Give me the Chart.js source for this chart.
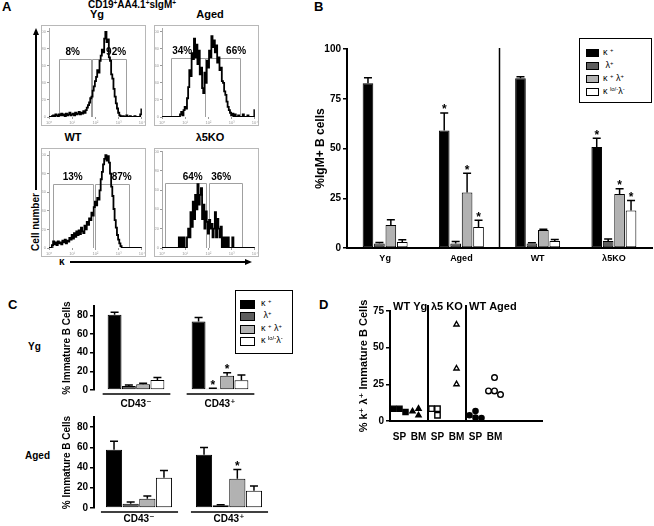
<!DOCTYPE html>
<html lang="en">
<head>
<meta charset="UTF-8">
<title>Light chain usage in immature B cells</title>
<script src="https://cdn.jsdelivr.net/npm/chart.js@4.4.1/dist/chart.umd.min.js"></script>
<style>
  html, body { margin: 0; padding: 0; background: #fff; }
  #fig { position: relative; width: 654px; height: 526px; overflow: hidden;
         font-family: "Liberation Sans", Arial, Helvetica, sans-serif; color: #000; }
  #fig canvas { position: absolute; }
  .t { position: absolute; font-weight: bold; white-space: nowrap; line-height: 1; }
  .t sup, .key sup { font-size: 65%; vertical-align: 0; position: relative; top: -0.45em; }
  .mid { transform: translateX(-50%); }
  .rot { transform: translate(-50%, -50%) rotate(-90deg); }
  .axv { z-index: 5; text-align: right; }
  .key { position: absolute; border: 1px solid #000; background: #fff; box-sizing: border-box; }
  .key div { position: absolute; white-space: nowrap; line-height: 1; }
  .key span { position: absolute; border: 1px solid #000; box-sizing: border-box; }
  .rule { position: absolute; background: #000; }
  .head { position: absolute; width: 0; height: 0; }
</style>
</head>
<body>
<div id="fig">
  <!-- panel letters -->
  <div class="t" style="left:2px;top:0;font-size:13px">A</div>
  <div class="t" style="left:314px;top:0;font-size:13px">B</div>
  <div class="t" style="left:8px;top:298px;font-size:13px">C</div>
  <div class="t" style="left:319px;top:298px;font-size:13px">D</div>

  <!-- A headings -->
  <div class="t mid" style="left:132px;top:0;font-size:10px">CD19<sup>+</sup>AA4.1<sup>+</sup>sIgM<sup>+</sup></div>
  <div class="t mid" style="left:97px;top:9px;font-size:11px">Yg</div>
  <div class="t mid" style="left:210px;top:9px;font-size:11px">Aged</div>
  <div class="t mid" style="left:73px;top:132px;font-size:11px">WT</div>
  <div class="t mid" style="left:210px;top:132px;font-size:11px">λ5KO</div>

  <!-- A axis arrows -->
  <div class="rule" style="left:35px;top:34px;width:1.5px;height:156px"></div>
  <div class="head" style="left:33px;top:28px;border-left:3px solid transparent;border-right:3px solid transparent;border-bottom:7px solid #000"></div>
  <div class="t rot" style="left:36px;top:222px;font-size:10px">Cell number</div>
  <div class="t" style="left:59px;top:257px;font-size:10px">κ</div>
  <div class="rule" style="left:70px;top:261px;width:176px;height:1.5px"></div>
  <div class="head" style="left:245px;top:259px;border-top:3px solid transparent;border-bottom:3px solid transparent;border-left:7px solid #000"></div>

  <canvas id="aYg" width="105" height="101" style="left:41px;top:25px"></canvas>
  <canvas id="aAged" width="105" height="101" style="left:154px;top:25px"></canvas>
  <canvas id="aWT" width="105" height="109" style="left:41px;top:148px"></canvas>
  <canvas id="aKO" width="105" height="109" style="left:154px;top:148px"></canvas>

  <canvas id="chartB" width="354" height="232" style="left:300px;top:40px"></canvas>
  <div class="key" style="left:579px;top:38px;width:73px;height:65px;font-size:9px">
    <span style="left:6px;top:10px;width:13px;height:8px;background:#000"></span><div style="left:23px;top:9px">κ <sup>+</sup></div>
    <span style="left:6px;top:23px;width:13px;height:8px;background:#5e5e5e"></span><div style="left:23px;top:22px">&nbsp;λ<sup>+</sup></div>
    <span style="left:6px;top:36px;width:13px;height:8px;background:#b2b2b2"></span><div style="left:23px;top:35px">κ <sup>+</sup> λ<sup>+</sup></div>
    <span style="left:6px;top:49px;width:13px;height:8px;background:#fff"></span><div style="left:23px;top:48px">κ <sup>lo/-</sup>λ<sup>-</sup></div>
  </div>

  <div class="t" style="left:28px;top:342px;font-size:10px">Yg</div>
  <div class="t" style="left:25px;top:451px;font-size:10px">Aged</div>
  <canvas id="chartCYg" width="212" height="115" style="left:55px;top:298px"></canvas>
  <canvas id="chartCAged" width="222" height="118" style="left:55px;top:408px"></canvas>
  <div class="key" style="left:235px;top:290px;width:58px;height:64px;font-size:9px">
    <span style="left:4px;top:9px;width:15px;height:9px;background:#000"></span><div style="left:25px;top:8px">κ <sup>+</sup></div>
    <span style="left:4px;top:21px;width:15px;height:9px;background:#5e5e5e"></span><div style="left:25px;top:20px">&nbsp;λ<sup>+</sup></div>
    <span style="left:4px;top:34px;width:15px;height:9px;background:#b2b2b2"></span><div style="left:25px;top:33px">κ <sup>+</sup> λ<sup>+</sup></div>
    <span style="left:4px;top:46px;width:15px;height:9px;background:#fff"></span><div style="left:25px;top:45px">κ <sup>lo/-</sup>λ<sup>-</sup></div>
  </div>

  <canvas id="chartD" width="215" height="150" style="left:335px;top:295px"></canvas>
</div>

<script>
// ---- panel A: kappa histograms, counts per 0.05-decade bin from 10^0 to 10^4
const logBins = Array.from({ length: 81 }, (_, i) => +(i * 0.05).toFixed(2));
const histYg = [0,0,0,1,2,1,3,2,1,3, 2,4,2,3,1,4,2,3,5,2, 3,4,2,5,3,4,6,3,5,4, 7,5,8,11,14,17,22,24,31,36,
  42,47,55,52,66,72,79,76,92,100, 88,91,70,66,50,45,33,24,16,10, 5,2,1,0,1,0,0,2,0,0, 1,0,0,0,1,0,0,0,0,3, 9];
const histAged = [0,0,0,0,0,0,0,0,0,0, 0,0,0,0,0,0,3,6,2,8, 12,10,22,35,55,48,75,68,92,70, 85,62,78,50,58,34,28,52,40,66,
  58,78,70,95,82,90,76,84,64,70, 55,58,42,40,30,26,18,12,8,5, 2,4,0,3,0,0,2,0,0,0, 3,0,0,0,2,0,0,0,0,0, 8];
const histWT = [0,0,0,3,7,4,6,3,7,5, 6,4,8,6,9,5,8,7,11,9, 14,10,16,12,18,14,19,15,22,18, 16,24,20,28,25,32,30,38,35,44,
  50,46,54,52,62,74,82,90,96,100, 94,99,92,80,66,56,42,30,22,14, 9,5,2,0,0,0,0,0,0,0, 0,0,0,0,0,0,0,0,0,0, 0];
const histKO = [0,0,0,0,0,0,0,0,0,0, 0,0,0,0,0,11,0,11,0,11, 0,0,11,20,11,37,22,48,30,55, 40,66,45,55,62,30,45,20,38,27,
  15,29,20,25,11,20,37,11,30,20, 11,22,0,11,0,11,0,11,0,0, 0,11,0,0,0,0,0,0,0,0, 0,0,0,0,0,0,0,0,0,0, 0];
// gates (log10 units) and their percentages
const gatesYg = [[0.43, 1.79], [1.83, 3.32]];
const gatesAged = [[0.37, 1.83], [1.83, 3.35]];
const gatesWT = [[0.18, 1.89], [1.96, 3.45]];
const gatesKO = [[0.13, 1.90], [2.01, 3.43]];
const pctYg = ['8%', '92%'];
const pctAged = ['34%', '66%'];
const pctWT = ['13%', '87%'];
const pctKO = ['64%', '36%'];
const pctXYg = [1.02, 2.89];
const pctXAged = [0.87, 3.19];
const pctXWT = [1.02, 3.13];
const pctXKO = [1.32, 2.55];

// ---- panel B: % of IgM+ B cells
const groupsB = ['Yg', 'Aged', 'WT', 'λ5KO'];
const kappaB = [82.8, 59.0, 85.3, 50.7];
const lambdaB = [2.3, 2.3, 2.2, 3.5];
const doubleB = [11.5, 27.9, 9.0, 27.1];
const lowB = [3.0, 10.5, 3.5, 18.9];
const kappaErrB = [2.7, 8.9, 0.8, 4.5];
const lambdaErrB = [0.5, 1.0, 0.5, 1.0];
const doubleErrB = [2.7, 9.7, 0.4, 2.7];
const lowErrB = [1.2, 3.4, 0.8, 5.0];
const kappaStarB = [0, 1, 0, 1];
const lambdaStarB = [0, 0, 0, 0];
const doubleStarB = [0, 1, 0, 1];
const lowStarB = [0, 1, 0, 1];

// ---- panel C: % of immature B cells, CD43- / CD43+
const groupsC = ['CD43⁻', 'CD43⁺'];
const ticksC = [0, 20, 40, 60, 80];
const kappaYgC = [80.6, 73.5];
const lambdaYgC = [4.3, 1.4];
const doubleYgC = [6.1, 15.4];
const lowYgC = [10.8, 10.4];
const kappaErrYgC = [2.6, 4.3];
const lambdaErrYgC = [1.1, 0.4];
const doubleErrYgC = [1.1, 3.2];
const lowErrYgC = [2.5, 5.7];
const kappaAgedC = [57.6, 52.6];
const lambdaAgedC = [4.3, 2.6];
const doubleAgedC = [9.2, 28.9];
const lowAgedC = [29.9, 17.1];
const kappaErrAgedC = [8.5, 7.3];
const lambdaErrAgedC = [1.6, 0.7];
const doubleErrAgedC = [2.6, 9.3];
const lowErrAgedC = [7.3, 4.6];
const lambdaStarYgC = [0, 1];
const doubleStarYgC = [0, 1];
const doubleStarAgedC = [0, 1];
const noStarC = [0, 0];

// ---- panel D: % k+ lambda+ immature B cells per mouse
const dCats = ['SP', 'BM', 'SP', 'BM', 'SP', 'BM'];
const dGroups = ['WT Yg', 'λ5 KO', 'WT Aged'];
const ygSP = [8.4, 8.4, 6.2];
const ygBM = [8.4, 6.6, 3.9];
const koSP = [8.4, 8.4, 3.9];
const koBM = [65.8, 35.8, 25.1];
const agedSP = [6.8, 3.9, 2.3, 2.0];
const agedBM = [29.6, 20.5, 20.5, 18.0];

const family = '"Liberation Sans", "DejaVu Sans", Arial, sans-serif';
Chart.defaults.font.family = family;
Chart.defaults.color = '#000';
Chart.defaults.animation = false;
Chart.defaults.responsive = false;
Chart.defaults.plugins.legend.display = false;
Chart.defaults.plugins.tooltip.enabled = false;

const decadeSup = ['⁰', '¹', '²', '³', '⁴'];

// light grey box round each histogram
const frame = {
  id: 'frame',
  afterDraw(chart) {
    const c = chart.ctx;
    c.save();
    c.strokeStyle = '#b8b8b8';
    c.lineWidth = 1;
    c.strokeRect(0.5, 0.5, chart.width - 1, chart.height - 1);
    c.restore();
  }
};

const gatePlugin = {
  id: 'gates',
  beforeDatasetsDraw(chart, args, o) {
    const { ctx, chartArea: a, scales: { x, y } } = chart;
    const yt = Math.round(y.getPixelForValue(o.top)) + 0.5;
    ctx.save();
    ctx.strokeStyle = '#a0a0a0';
    ctx.lineWidth = 1;
    o.ranges.forEach(([lo, hi]) => {
      const x1 = Math.round(x.getPixelForValue(lo)) + 0.5;
      const x2 = Math.round(x.getPixelForValue(hi)) + 0.5;
      ctx.beginPath();
      ctx.moveTo(x1, a.bottom);
      ctx.lineTo(x1, yt);
      ctx.lineTo(x2, yt);
      ctx.lineTo(x2, a.bottom);
      ctx.stroke();
    });
    ctx.restore();
  },
  afterDatasetsDraw(chart, args, o) {
    const { ctx, scales: { x, y } } = chart;
    const yt = y.getPixelForValue(o.top);
    ctx.save();
    ctx.fillStyle = '#000';
    ctx.font = 'bold 10px ' + family;
    ctx.textAlign = 'center';
    ctx.textBaseline = 'middle';
    o.labels.forEach((txt, i) => ctx.fillText(txt, x.getPixelForValue(o.labelX[i]), yt - 6.5));
    ctx.restore();
  }
};

function histogram(id, counts, ymax, gates, gateTop, pcts, pctX) {
  new Chart(document.getElementById(id), {
    type: 'line',
    data: {
      datasets: [{
        data: logBins.map((x, i) => ({ x: x, y: counts[i] })),
        borderColor: '#000', borderWidth: 1.8, pointRadius: 0, stepped: 'middle', fill: false
      }]
    },
    options: {
      layout: { padding: { top: 1, right: 3 } },
      scales: {
        x: {
          type: 'linear', min: 0, max: 4,
          afterFit: s => { s.height = 9; },
          border: { display: false },
          grid: { drawOnChartArea: false, tickLength: 2, color: '#999' },
          ticks: { stepSize: 1, padding: 1, maxRotation: 0, autoSkip: false, color: '#999',
                   font: { size: 4 }, callback: v => '10' + decadeSup[v] }
        },
        y: {
          min: 0, max: ymax,
          afterFit: s => { s.width = 8; },
          border: { color: '#aaa', width: 1, dash: [1, 1] },
          grid: { drawOnChartArea: false, tickLength: 2, color: '#999' },
          ticks: { stepSize: 20, includeBounds: false, padding: 1, color: '#999', font: { size: 4 } }
        }
      },
      plugins: { gates: { ranges: gates, top: gateTop, labels: pcts, labelX: pctX } }
    },
    plugins: [frame, gatePlugin]
  });
}

histogram('aYg', histYg, 104, gatesYg, 68, pctYg, pctXYg);
histogram('aAged', histAged, 104, gatesAged, 69, pctAged, pctXAged);
histogram('aWT', histWT, 104, gatesWT, 69, pctWT, pctXWT);
histogram('aKO', histKO, 100, gatesKO, 67, pctKO, pctXKO);

// error bars (upper half only), significance stars, B divider, C group lines and tick marks
const barExtras = {
  id: 'barExtras',
  afterDatasetsDraw(chart, args, o) {
    const { ctx, chartArea: a, scales: { x, y } } = chart;
    const sets = chart.data.datasets;
    ctx.save();
    ctx.strokeStyle = '#000';
    ctx.fillStyle = '#000';
    ctx.lineWidth = 1.5;
    ctx.font = 'bold 12px ' + family;
    ctx.textAlign = 'center';
    ctx.textBaseline = 'alphabetic';
    sets.forEach((ds, i) => {
      chart.getDatasetMeta(i).data.forEach((bar, j) => {
        const top = y.getPixelForValue(ds.data[j] + ds.errors[j]);
        ctx.beginPath();
        ctx.moveTo(bar.x, bar.y);
        ctx.lineTo(bar.x, top);
        ctx.moveTo(bar.x - o.cap, top);
        ctx.lineTo(bar.x + o.cap, top);
        ctx.stroke();
        if (ds.stars[j]) ctx.fillText('*', bar.x, top + 0.5);
      });
    });
    if (o.splitAfter >= 0) {
      const xm = (x.getPixelForValue(o.splitAfter) + x.getPixelForValue(o.splitAfter + 1)) / 2;
      ctx.beginPath();
      ctx.moveTo(xm, a.top - 1);
      ctx.lineTo(xm, a.bottom);
      ctx.stroke();
    }
    if (o.groupLines) {
      const first = chart.getDatasetMeta(0).data;
      const last = chart.getDatasetMeta(sets.length - 1).data;
      first.forEach((b, j) => {
        ctx.beginPath();
        ctx.moveTo(b.x - b.width / 2 - 5, a.bottom + 4);
        ctx.lineTo(last[j].x + last[j].width / 2 + 6, a.bottom + 4);
        ctx.stroke();
      });
    }
    ctx.restore();
  }
};

const barFill = ['#000000', '#5e5e5e', '#b2b2b2', '#ffffff'];
const barNames = ['κ+', 'λ+', 'κ+λ+', 'κlo/-λ-'];

function barSets(vals, errs, stars, catPct, barPct) {
  return vals.map((v, k) => ({
    label: barNames[k], data: v, errors: errs[k], stars: stars[k],
    backgroundColor: barFill[k], borderColor: '#000', borderWidth: 1, borderSkipped: false,
    categoryPercentage: catPct, barPercentage: barPct
  }));
}

function barChart(id, cats, sets, cfg) {
  return new Chart(document.getElementById(id), {
    type: 'bar',
    data: { labels: cats, datasets: sets },
    options: {
      layout: { padding: cfg.pad },
      scales: {
        x: {
          afterFit: s => { s.height = cfg.xh; },
          border: { display: cfg.xAxis, color: '#000', width: 2 },
          grid: { display: false, drawTicks: false },
          ticks: { padding: cfg.xpad, maxRotation: 0, autoSkip: false, font: { size: cfg.xfont, weight: 'bold' } }
        },
        y: {
          min: 0, max: cfg.max,
          afterFit: s => { s.width = cfg.yw; },
          border: { color: '#000', width: 2 },
          grid: { drawOnChartArea: false, tickLength: 4, color: '#000', lineWidth: 1.5 },
          ticks: { display: !cfg.htmlValues, stepSize: cfg.step, includeBounds: false, autoSkip: false, padding: 2,
                   font: { size: cfg.yfont, weight: 'bold' } },
          title: { display: true, text: cfg.title, padding: 0, font: { size: cfg.tfont, weight: 'bold' } }
        }
      },
      plugins: { barExtras: { cap: cfg.cap, splitAfter: cfg.splitAfter, groupLines: cfg.groupLines } }
    },
    plugins: [barExtras]
  });
}

// y-axis values written as text next to a chart's axis, placed through the chart's own y scale
function axisValues(chart, canvasId, values, size) {
  const cv = document.getElementById(canvasId);
  const fig = document.getElementById('fig');
  const y = chart.scales.y;
  const axisX = parseFloat(cv.style.left) + chart.chartArea.left;
  const top = parseFloat(cv.style.top);
  values.forEach(v => {
    const d = document.createElement('div');
    d.className = 't axv';
    d.style.fontSize = size + 'px';
    d.style.right = (654 - (axisX - 6)) + 'px';
    d.style.top = (top + y.getPixelForValue(v) - size * 0.55) + 'px';
    d.textContent = String(v);
    fig.appendChild(d);
  });
}

barChart('chartB', groupsB,
  barSets([kappaB, lambdaB, doubleB, lowB], [kappaErrB, lambdaErrB, doubleErrB, lowErrB],
          [kappaStarB, lambdaStarB, doubleStarB, lowStarB], 0.6, 0.93),
  { pad: { left: 13, top: 9, right: 2 }, xh: 24, yw: 34, xAxis: true, xpad: 5, xfont: 9,
    max: 100, step: 25, yfont: 10, title: '%IgM+ B cells', tfont: 12, cap: 4, splitAfter: 1, groupLines: false, htmlValues: false });

const chartCYg = barChart('chartCYg', groupsC,
  barSets([kappaYgC, lambdaYgC, doubleYgC, lowYgC], [kappaErrYgC, lambdaErrYgC, doubleErrYgC, lowErrYgC],
          [noStarC, lambdaStarYgC, doubleStarYgC, noStarC], 0.68, 0.97),
  { pad: { left: 6, top: 8, right: 5 }, xh: 23, yw: 33, xAxis: false, xpad: 8, xfont: 10,
    max: 90, step: 20, yfont: 10, title: '% Immature B Cells', tfont: 10, cap: 4, splitAfter: -1, groupLines: true, htmlValues: true });

const chartCAged = barChart('chartCAged', groupsC,
  barSets([kappaAgedC, lambdaAgedC, doubleAgedC, lowAgedC], [kappaErrAgedC, lambdaErrAgedC, doubleErrAgedC, lowErrAgedC],
          [noStarC, noStarC, doubleStarAgedC, noStarC], 0.74, 0.97),
  { pad: { left: 6, top: 9, right: 3 }, xh: 18, yw: 33, xAxis: false, xpad: 5, xfont: 10,
    max: 90, step: 20, yfont: 10, title: '% Immature B Cells', tfont: 10, cap: 4, splitAfter: -1, groupLines: true, htmlValues: true });

axisValues(chartCYg, 'chartCYg', ticksC, 10);
axisValues(chartCAged, 'chartCAged', ticksC, 10);

// ---- D: spread overlapping points sideways
const dodge = {
  id: 'dodge',
  afterDatasetsUpdate(chart, args, o) {
    chart.data.datasets.forEach((ds, i) => {
      const placed = [];
      chart.getDatasetMeta(i).data.forEach(p => {
        const cx = p.x;
        for (const k of [0, -1, 1, -2, 2]) {
          const nx = cx + k * o.step;
          if (!placed.some(q => Math.abs(q.x - nx) < o.step && Math.abs(q.y - p.y) < o.step)) { p.x = nx; break; }
        }
        placed.push({ x: p.x, y: p.y });
      });
    });
  }
};

// group dividers, group titles and SP/BM labels in D
const dGuides = {
  id: 'dGuides',
  afterDraw(chart) {
    const { ctx, chartArea: a, scales: { x } } = chart;
    const starts = [a.left];
    ctx.save();
    ctx.strokeStyle = '#000';
    ctx.lineWidth = 2;
    dGroups.slice(1).forEach((g, k) => {
      const xs = x.getPixelForValue(2 * (k + 1) - 0.5);
      starts.push(xs);
      ctx.beginPath();
      ctx.moveTo(xs, a.top - 6);
      ctx.lineTo(xs, a.bottom);
      ctx.stroke();
    });
    ctx.fillStyle = '#000';
    ctx.font = 'bold 11px ' + family;
    ctx.textAlign = 'left';
    ctx.textBaseline = 'middle';
    dGroups.forEach((g, k) => ctx.fillText(g, starts[k] + 3, a.top - 4));
    ctx.font = 'bold 10px ' + family;
    ctx.textAlign = 'center';
    dCats.forEach((c, i) => ctx.fillText(c, x.getPixelForValue(i), a.bottom + 16));
    ctx.restore();
  }
};

function dSet(vals, cat, style, fill, r) {
  return {
    data: vals.map(v => ({ x: cat, y: v })),
    pointStyle: style, pointRadius: r, backgroundColor: fill, borderColor: '#000', borderWidth: 1.4, showLine: false
  };
}

new Chart(document.getElementById('chartD'), {
  type: 'scatter',
  data: {
    datasets: [
      dSet(ygSP, 0, 'rect', '#000', 3.6),
      dSet(ygBM, 1, 'triangle', '#000', 3),
      dSet(koSP, 2, 'rect', '#fff', 3.8),
      dSet(koBM, 3, 'triangle', '#fff', 3),
      dSet(agedSP, 4, 'circle', '#000', 2.6),
      dSet(agedBM, 5, 'circle', '#fff', 2.8)
    ]
  },
  options: {
    layout: { padding: { left: 22, top: 16, right: 8 } },
    scales: {
      x: {
        type: 'linear', min: -0.5, max: 7.5,
        afterFit: s => { s.height = 24; },
        border: { color: '#000', width: 2 },
        grid: { display: false, drawTicks: false },
        ticks: { display: false }
      },
      y: {
        min: 0, max: 75,
        afterFit: s => { s.width = 33; },
        border: { color: '#000', width: 2 },
        grid: { drawOnChartArea: false, tickLength: 4, color: '#000', lineWidth: 1.5 },
        ticks: { stepSize: 25, padding: 2, font: { size: 10, weight: 'bold' } },
        title: { display: true, text: '% k⁺ λ⁺ Immature B Cells', padding: 0, font: { size: 11, weight: 'bold' } }
      }
    },
    plugins: { dodge: { step: 6 } }
  },
  plugins: [dodge, dGuides]
});
</script>
</body>
</html>
